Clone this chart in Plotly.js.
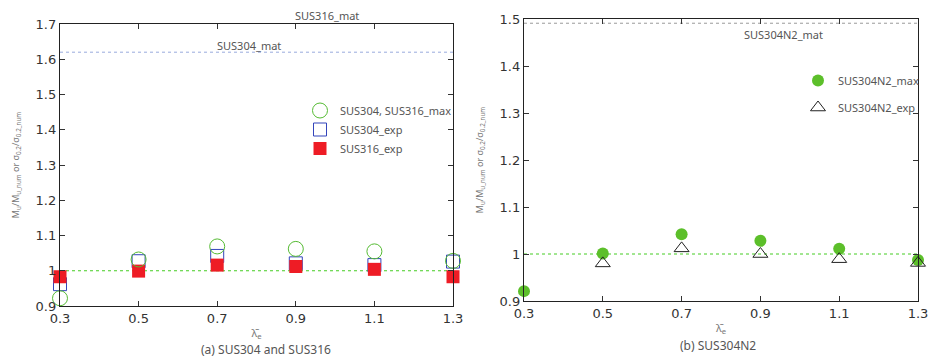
<!DOCTYPE html>
<html><head><meta charset="utf-8">
<script src="https://cdn.plot.ly/plotly-3.0.1.min.js"></script>
<style>html,body{margin:0;padding:0;background:#fff}#c{width:931px;height:360px}</style>
</head><body><div id="c"></div>
<script>
const lambdaE = [0.3, 0.5, 0.7, 0.9, 1.1, 1.3];
// (a) SUS304 and SUS316
const sus304_316_max = [0.922, 1.032, 1.069, 1.062, 1.055, 1.028];
const sus304_exp = [0.962, 1.027, 1.042, 1.021, 1.016, 1.026];
const sus316_exp = [0.983, 0.999, 1.016, 1.012, 1.004, 0.983];
const sus304_mat = 1.62;
// (b) SUS304N2
const sus304n2_max = [0.921, 1.001, 1.042, 1.028, 1.011, 0.987];
const lambdaE_b = [0.5, 0.7, 0.9, 1.1, 1.3];
const sus304n2_exp = [0.980, 1.012, 1.000, 0.989, 0.981];
const sus304n2_mat = 1.491;
const xRange = [0.3, 1.3];
const xTicks = [0.3, 0.5, 0.7, 0.9, 1.1, 1.3];
const yTicksA = [0.9, 1.0, 1.1, 1.2, 1.3, 1.4, 1.5, 1.6, 1.7];
const yTicksB = [0.9, 1.0, 1.1, 1.2, 1.3, 1.4, 1.5];
const tickText = v => (v === 1 ? "1" : v.toFixed(1));

const F = "DejaVu Sans, sans-serif";
const T = "Noto Sans, sans-serif";
const traces = [
  {x: xRange, y: [1, 1], mode: "lines", line: {color: "#44cc22", width: 1, dash: "dot"}, showlegend: false, xaxis: "x", yaxis: "y"},
  {x: xRange, y: [sus304_mat, sus304_mat], mode: "lines", line: {color: "#99aadd", width: 1, dash: "dot"}, showlegend: false, xaxis: "x", yaxis: "y"},
  {x: lambdaE, y: sus304_exp, mode: "markers", name: "SUS304_exp", legendrank: 2, marker: {symbol: "square-open", size: 13, color: "#3344bb", line: {width: 1}}, xaxis: "x", yaxis: "y", cliponaxis: false, legend: "legend"},
  {x: lambdaE, y: sus316_exp, mode: "markers", name: "SUS316_exp", legendrank: 3, marker: {symbol: "square", size: 13, color: "#ee1c25"}, xaxis: "x", yaxis: "y", cliponaxis: false, legend: "legend"},
  {x: lambdaE, y: sus304_316_max, mode: "markers", name: "SUS304, SUS316_max", legendrank: 1, marker: {symbol: "circle-open", size: 15, color: "#55bb33", line: {width: 1}}, xaxis: "x", yaxis: "y", cliponaxis: false, legend: "legend"},
  {x: xRange, y: [1, 1], mode: "lines", line: {color: "#44cc22", width: 1, dash: "dot"}, showlegend: false, xaxis: "x2", yaxis: "y2"},
  {x: xRange, y: [sus304n2_mat, sus304n2_mat], mode: "lines", line: {color: "#999999", width: 1, dash: "dot"}, showlegend: false, xaxis: "x2", yaxis: "y2"},
  {x: lambdaE, y: sus304n2_max, mode: "markers", name: "SUS304N2_max", legendgroup: "g1", marker: {symbol: "circle", size: 12, color: "#5cbf2a"}, xaxis: "x2", yaxis: "y2", cliponaxis: false, legend: "legend2"},
  {x: lambdaE_b, y: sus304n2_exp, mode: "markers", name: "SUS304N2_exp", legendgroup: "g2", marker: {symbol: "triangle-up-open", size: 13, color: "#222222", line: {width: 1}}, xaxis: "x2", yaxis: "y2", cliponaxis: false, legend: "legend2"}
];

const axBase = {
  showgrid: false, zeroline: false, showline: true, linecolor: "#222", linewidth: 1.2, mirror: "ticks",
  ticks: "inside", ticklen: 5, tickcolor: "#333", tickfont: {family: F, size: 13, color: "#333"}
};
const ytitle = "M<sub>u</sub>/M<sub>u_num</sub> or σ<sub>0.2</sub>/σ<sub>0.2_num</sub>";
const layout = {
  width: 931, height: 360, margin: {l: 0, r: 0, t: 0, b: 0},
  paper_bgcolor: "#fff", plot_bgcolor: "#fff", font: {family: T, color: "#444"},
  xaxis: Object.assign({}, axBase, {domain: [60/931, 453/931], range: xRange, tickvals: xTicks, ticktext: xTicks.map(tickText), anchor: "y",
    title: {text: "λ̄<sub>e</sub>", font: {family: T, size: 11, color: "#777"}, standoff: 4}}),
  yaxis: Object.assign({}, axBase, {domain: [1 - 306/360, 1 - 24/360], range: [0.9, 1.7], tickvals: yTicksA, ticktext: yTicksA.map(tickText), anchor: "x",
    title: {text: ytitle, font: {family: T, size: 9, color: "#777"}, standoff: 14}}),
  xaxis2: Object.assign({}, axBase, {domain: [524/931, 918/931], range: xRange, tickvals: xTicks, ticktext: xTicks.map(tickText), anchor: "y2",
    title: {text: "λ̄<sub>e</sub>", font: {family: T, size: 11, color: "#777"}, standoff: 4}}),
  yaxis2: Object.assign({}, axBase, {domain: [1 - 301/360, 1 - 19/360], range: [0.9, 1.5], tickvals: yTicksB, ticktext: yTicksB.map(tickText), anchor: "x2",
    title: {text: ytitle, font: {family: T, size: 9, color: "#777"}, standoff: 14}}),
  legend: {x: 300/931, y: 1 - 96/360, xanchor: "left", yanchor: "top", bgcolor: "rgba(0,0,0,0)", font: {family: T, size: 11, color: "#555"},
    itemsizing: "trace", itemwidth: 30, tracegroupgap: 0},
  legend2: {x: 798/931, y: 1 - 66/360, xanchor: "left", yanchor: "top", bgcolor: "rgba(0,0,0,0)", font: {family: T, size: 11, color: "#555"},
    itemsizing: "trace", itemwidth: 30, tracegroupgap: 8},
  annotations: [
    {text: "SUS316_mat", xref: "paper", yref: "paper", x: 327/931, y: 1 - 16/360, xanchor: "center", yanchor: "middle", showarrow: false, font: {family: T, size: 11, color: "#555"}},
    {text: "SUS304_mat", xref: "paper", yref: "paper", x: 249/931, y: 1 - 45/360, xanchor: "center", yanchor: "middle", showarrow: false, font: {family: T, size: 11, color: "#555"}},
    {text: "SUS304N2_mat", xref: "paper", yref: "paper", x: 783/931, y: 1 - 34/360, xanchor: "center", yanchor: "middle", showarrow: false, font: {family: T, size: 11, color: "#555"}},
    {text: "(a) SUS304 and SUS316", xref: "paper", yref: "paper", x: 266/931, y: 1 - 349/360, xanchor: "center", yanchor: "middle", showarrow: false, font: {family: T, size: 12, color: "#555"}},
    {text: "(b) SUS304N2", xref: "paper", yref: "paper", x: 718/931, y: 1 - 345/360, xanchor: "center", yanchor: "middle", showarrow: false, font: {family: T, size: 12, color: "#555"}}
  ]
};
Plotly.newPlot("c", traces, layout, {displayModeBar: false, staticPlot: true});
</script></body></html>
